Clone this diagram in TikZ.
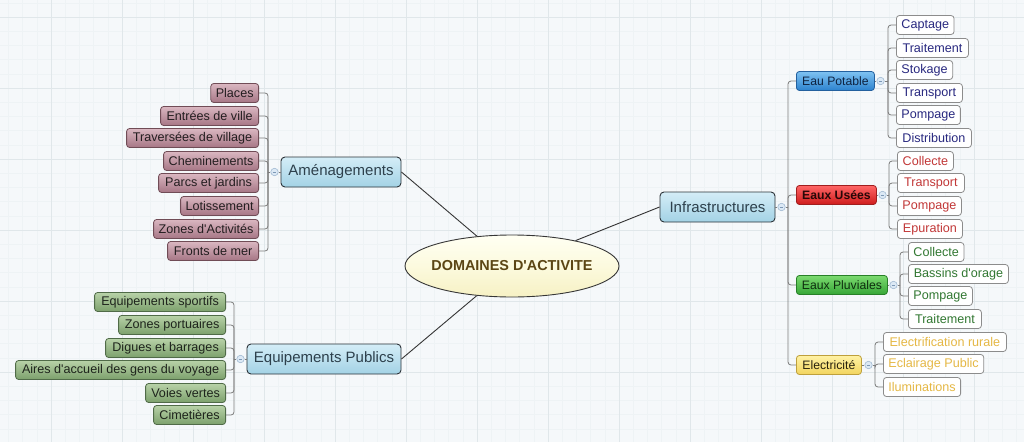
\documentclass[tikz,border=0pt]{standalone}
\usepackage{fontspec}
\setmainfont{Liberation Sans}
\newfontfamily\lsans{Liberation Sans}
\usetikzlibrary{calc,shapes.geometric}
\definecolor{bgc}{HTML}{F5F8FA}
\definecolor{gmin}{HTML}{EEF3F5}
\definecolor{gmaj}{HTML}{E0E7EA}
\definecolor{cline}{HTML}{7C7C7C}
\definecolor{rline}{HTML}{363636}
\definecolor{togf}{HTML}{DCE9F5}
\definecolor{togd}{HTML}{A3BBD3}
\definecolor{togm}{HTML}{7C98B6}
\newcommand\fleaf{\lsans\fontsize{12.6}{15}\selectfont}
\newcommand\fmain{\lsans\fontsize{15}{18}\selectfont}
\newcommand\fsub{\lsans\fontsize{12.2}{15}\selectfont}
\newcommand\froot{\lsans\fontsize{14.4}{17}\selectfont\bfseries}
\begin{document}
\begin{tikzpicture}[x=1pt,y=-1pt,
  conn/.style={draw=cline, line width=0.8pt, rounded corners=3pt},
  rootline/.style={draw=rline, line width=0.9pt},
  rootnode/.style={ellipse, draw=rline, line width=0.9pt, minimum width=214pt, minimum height=62pt, inner xsep=-6pt, inner ysep=0pt,
     top color=white!60!yellow!12, bottom color={rgb,255:red,246;green,241;blue,196}, middle color={rgb,255:red,252;green,250;blue,222},
     text={rgb,255:red,91;green,69;blue,20}, font=\froot},
  mainnode/.style={draw={rgb,255:red,43;green,50;blue,56}, line width=0.9pt, rounded corners=4pt, minimum height=30pt, inner xsep=7pt, inner ysep=0pt,
     top color={rgb,255:red,212;green,237;blue,247}, bottom color={rgb,255:red,163;green,210;blue,229},
     text={rgb,255:red,45;green,64;blue,76}, font=\fmain},
  leafbase/.style={rounded corners=3pt, line width=0.8pt, minimum height=19pt, inner xsep=5pt, inner ysep=0pt, font=\fleaf},
  leafA/.style={leafbase, anchor=east, draw={rgb,255:red,112;green,76;blue,86},
     top color={rgb,255:red,218;green,183;blue,193}, bottom color={rgb,255:red,166;green,118;blue,133}, text={rgb,255:red,36;green,30;blue,32}},
  leafE/.style={leafbase, anchor=east, draw={rgb,255:red,80;green,107;blue,72},
     top color={rgb,255:red,184;green,210;blue,168}, bottom color={rgb,255:red,124;green,160;blue,108}, text={rgb,255:red,30;green,36;blue,28}},
  leafR/.style={leafbase, anchor=west, draw={rgb,255:red,140;green,140;blue,140}, fill=white},
  subbase/.style={anchor=west, rounded corners=3pt, line width=0.8pt, minimum height=19pt, inner xsep=5pt, inner ysep=0pt, font=\fsub},
  subP/.style={subbase, draw={rgb,255:red,35;green,96;blue,158}, top color={rgb,255:red,126;green,194;blue,242}, bottom color={rgb,255:red,44;green,130;blue,206}, text={rgb,255:red,14;green,34;blue,64}},
  subU/.style={subbase, draw={rgb,255:red,160;green,30;blue,30}, top color={rgb,255:red,255;green,102;blue,102}, bottom color={rgb,255:red,206;green,28;blue,28}, text={rgb,255:red,40;green,8;blue,8}, font=\fsub\bfseries},
  subV/.style={subbase, draw={rgb,255:red,40;green,128;blue,40}, top color={rgb,255:red,124;green,218;blue,112}, bottom color={rgb,255:red,54;green,166;blue,54}, text={rgb,255:red,14;green,46;blue,14}},
  subE/.style={subbase, draw={rgb,255:red,190;green,160;blue,60}, top color={rgb,255:red,255;green,242;blue,164}, bottom color={rgb,255:red,242;green,212;blue,94}, text={rgb,255:red,40;green,34;blue,14}},
  tP/.style={text={rgb,255:red,41;green,41;blue,128}},
  tU/.style={text={rgb,255:red,194;green,56;blue,56}},
  tV/.style={text={rgb,255:red,50;green,120;blue,50}},
  tE/.style={text={rgb,255:red,229;green,184;blue,69}},
  tog/.style={circle, draw=togd, fill=togf, line width=0.6pt, minimum size=7.5pt, inner sep=0pt,
     path picture={\draw[togm, line width=0.7pt] ($(path picture bounding box.west)+(1.8pt,0pt)$) -- ($(path picture bounding box.east)+(-1.8pt,0pt)$);}}
]
\useasboundingbox (0,0) rectangle (1024,442);
\fill[bgc] (0,0) rectangle (1024,442);
% grid
\foreach \j in {-3,...,68} {\draw[gmin, line width=0.5pt] ({51+14.2*\j},0) -- ({51+14.2*\j},442);}
\foreach \j in {-1,...,29} {\draw[gmin, line width=0.5pt] (0,{17+14.2*\j}) -- (1024,{17+14.2*\j});}
\foreach \k in {0,...,13} {\draw[gmaj, line width=0.9pt] ({51+71*\k},0) -- ({51+71*\k},442);}
\foreach \k in {0,...,5} {\draw[gmaj, line width=0.9pt] (0,{17+71*\k}) -- (1024,{17+71*\k});}

% root and main nodes
\node[rootnode] (root) at (512,266) {DOMAINES D'ACTIVITE};
\node[mainnode, minimum width=120pt] (amen) at (341,172) {Aménagements};
\node[mainnode, minimum width=154pt] (equip) at (324,359) {Equipements Publics};
\node[mainnode, minimum width=115pt] (infra) at (717.5,207) {Infrastructures};
\draw[rootline] (root) -- (amen.east);
\draw[rootline] (root) -- (equip.east);
\draw[rootline] (root) -- (infra.west);

% Amenagements
\node[leafA, minimum width=46pt] (a1) at (259,93) {Places};
\node[leafA, minimum width=98pt] (a2) at (259,116) {Entrées de ville};
\node[leafA, minimum width=132pt] (a3) at (259,138) {Traversées de village};
\node[leafA, minimum width=95pt] (a4) at (259,161) {Cheminements};
\node[leafA, minimum width=100pt] (a5) at (259,183) {Parcs et jardins};
\node[leafA, minimum width=78pt] (a6) at (259,206) {Lotissement};
\node[leafA, minimum width=105pt] (a7) at (259,229) {Zones d'Activités};
\node[leafA, minimum width=91pt] (a8) at (259,251) {Fronts de mer};
\coordinate (aB) at (268,172);
\node[tog] (aC) at (274.5,172) {};
\foreach \n in {a1,a2,a3,a4,a5,a6,a7,a8} {\draw[conn] (aB) |- (\n.east);}
\draw[conn] (aB) -- (aC.west);
\draw[conn] (aC.east) -- (amen.west);

% Equipements Publics
\node[leafE, minimum width=131pt] (e1) at (226,302) {Equipements sportifs};
\node[leafE, minimum width=107pt] (e2) at (226,325) {Zones portuaires};
\node[leafE, minimum width=120pt] (e3) at (226,348) {Digues et barrages};
\node[leafE, minimum width=210pt] (e4) at (226,370) {Aires d'accueil des gens du voyage};
\node[leafE, minimum width=80pt] (e5) at (226,393) {Voies vertes};
\node[leafE, minimum width=72pt] (e6) at (226,415) {Cimetières};
\coordinate (eB) at (234,359);
\node[tog] (eC) at (240.5,359) {};
\foreach \n in {e1,e2,e3,e4,e5,e6} {\draw[conn] (eB) |- (\n.east);}
\draw[conn] (eB) -- (eC.west);
\draw[conn] (eC.east) -- (equip.west);

% Infrastructures
\node[subP, minimum width=78pt] (sP) at (796,81) {Eau Potable};
\node[subU, minimum width=80pt] (sU) at (796,195) {Eaux Usées};
\node[subV, minimum width=91pt] (sV) at (796,285) {Eaux Pluviales};
\node[subE, minimum width=65pt] (sE) at (796,365) {Electricité};
\coordinate (iB) at (788,207);
\node[tog] (iC) at (781.5,207) {};
\draw[conn] (infra.east) -- (iC.west);
\draw[conn] (iC.east) -- (iB);
\foreach \n in {sP,sU,sV,sE} {\draw[conn] (iB) |- (\n.west);}

% Eau Potable
\node[leafR, tP, minimum width=57pt] (p1) at (896,25) {Captage};
\node[leafR, tP, minimum width=72pt] (p2) at (896,48) {Traitement};
\node[leafR, tP, minimum width=55pt] (p3) at (896,70) {Stokage};
\node[leafR, tP, minimum width=66pt] (p4) at (896,93) {Transport};
\node[leafR, tP, minimum width=63pt] (p5) at (896,115) {Pompage};
\node[leafR, tP, minimum width=75pt] (p6) at (896,138) {Distribution};
\node[tog] (pC) at (880.5,81) {};
\coordinate (pB) at (888,81);
\draw[conn] (sP.east) -- (pC.west);
\draw[conn] (pC.east) -- (pB);
\foreach \n in {p1,p2,p3,p4,p5,p6} {\draw[conn] (pB) |- (\n.west);}

% Eaux Usees
\node[leafR, tU, minimum width=56pt] (u1) at (897,161) {Collecte};
\node[leafR, tU, minimum width=67pt] (u2) at (897,183) {Transport};
\node[leafR, tU, minimum width=64pt] (u3) at (897,206) {Pompage};
\node[leafR, tU, minimum width=65pt] (u4) at (897,229) {Epuration};
\node[tog] (uC) at (882.5,195) {};
\coordinate (uB) at (889,195);
\draw[conn] (sU.east) -- (uC.west);
\draw[conn] (uC.east) -- (uB);
\foreach \n in {u1,u2,u3,u4} {\draw[conn] (uB) |- (\n.west);}

% Eaux Pluviales
\node[leafR, tV, minimum width=55pt] (v1) at (908,252) {Collecte};
\node[leafR, tV, minimum width=100pt] (v2) at (908,274) {Bassins d'orage};
\node[leafR, tV, minimum width=64pt] (v3) at (908,296) {Pompage};
\node[leafR, tV, minimum width=73pt] (v4) at (908,319) {Traitement};
\node[tog] (vC) at (893.5,285) {};
\coordinate (vB) at (900,285);
\draw[conn] (sV.east) -- (vC.west);
\draw[conn] (vC.east) -- (vB);
\foreach \n in {v1,v2,v3,v4} {\draw[conn] (vB) |- (\n.west);}

% Electricite
\node[leafR, tE, minimum width=123pt] (l1) at (883,342) {Electrification rurale};
\node[leafR, tE, minimum width=99pt] (l2) at (883,364) {Eclairage Public};
\node[leafR, tE, minimum width=77pt] (l3) at (883,387) {Iluminations};
\node[tog] (lC) at (868.5,365) {};
\coordinate (lB) at (875,365);
\draw[conn] (sE.east) -- (lC.west);
\draw[conn] (lC.east) -- (lB);
\foreach \n in {l1,l2,l3} {\draw[conn] (lB) |- (\n.west);}
\end{tikzpicture}
\end{document}
